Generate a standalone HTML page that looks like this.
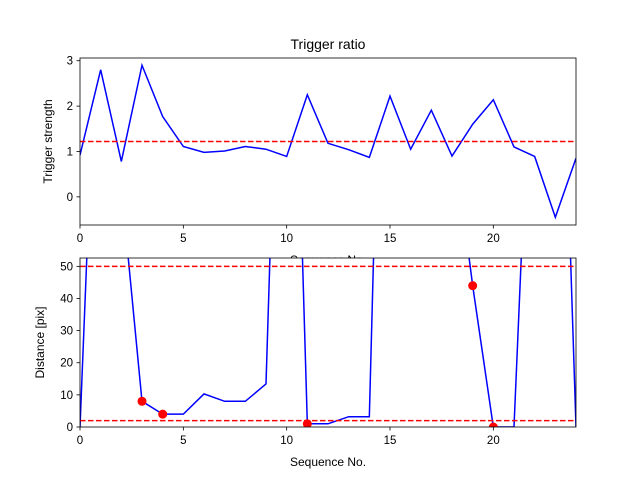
<!DOCTYPE html>
<html><head><meta charset="utf-8"><style>
html,body{margin:0;padding:0;background:#fff;}
svg{display:block;font-family:"Liberation Sans","DejaVu Sans",sans-serif;}
</style></head><body>
<svg id="chart" width="640" height="480" viewBox="0 0 640 480">
<rect x="0" y="0" width="640" height="480" fill="#fff"/>
</svg>
<script>
const seqNo = [0,1,2,3,4,5,6,7,8,9,10,11,12,13,14,15,16,17,18,19,20,21,22,23,24];
const strength = [0.92,2.8,0.78,2.9,1.77,1.11,0.98,1.01,1.11,1.05,0.89,2.25,1.18,1.04,0.87,2.22,1.05,1.91,0.9,1.6,2.14,1.1,0.89,-0.45,0.85];
const strengthThreshold = [1.22];
const distance = [0,160,75,8,4,4,10.3,8,8,13.4,220,1,1,3.2,3.2,247,240,230,94,44,0,0,150,200,0];
const flaggedIdx = [3,4,11,19,20];
const distThresholds = [50,2];
const topYTicks = [0,1,2,3];
const botYTicks = [0,10,20,30,40,50];
const xTicks = [0,5,10,15,20];

const NS="http://www.w3.org/2000/svg";
const svgEl=document.getElementById('chart');
function mk(tag,attrs,parent){const e=document.createElementNS(NS,tag);for(const k in attrs)e.setAttribute(k,attrs[k]);(parent||svgEl).appendChild(e);return e;}

const L=80,R=576;
const xS=v=>L+(v-0)/(24-0)*(R-L);
const topAx={t:58,b:225,min:-0.62,max:3.06};
const botAx={t:258,b:427,min:0,max:52.6};
const yS=(ax,v)=>ax.b-(v-ax.min)/(ax.max-ax.min)*(ax.b-ax.t);

function drawAxes(ax,yticks,ylabel,ylabelX,name){
  const g=mk('g',{});
  
  
  mk('rect',{x:L,y:ax.t,width:R-L,height:ax.b-ax.t,fill:'#fff'},g);
  const clipId='clip-'+name;
  const cp=mk('clipPath',{id:clipId},g);
  mk('rect',{x:L,y:ax.t,width:R-L,height:ax.b-ax.t},cp);
  yticks.forEach(v=>{
    const y=yS(ax,v);
    const t=mk('line',{x1:L-3.5,x2:L,y1:y,y2:y,stroke:'#000','stroke-width':0.8},g);
    
    
    const tx=mk('text',{x:L-7,y:y+4,'text-anchor':'end','font-size':'11.5'},g);
    
    
    tx.textContent=v;
  });
  xTicks.forEach(v=>{
    const x=xS(v);
    const t=mk('line',{x1:x,x2:x,y1:ax.b,y2:ax.b+3.5,stroke:'#000','stroke-width':0.8},g);
    
    
    const tx=mk('text',{x:x,y:ax.b+17,'text-anchor':'middle','font-size':'11.5'},g);
    
    
    tx.textContent=v;
  });
  const yl=mk('text',{x:ylabelX,y:(ax.t+ax.b)/2,'text-anchor':'middle','font-size':'12',transform:`rotate(-90 ${ylabelX} ${(ax.t+ax.b)/2})`},g);
  
  
  yl.textContent=ylabel;
  const xl=mk('text',{x:(L+R)/2,y:ax.b+39,'text-anchor':'middle','font-size':'12'},g);
  
  
  xl.textContent='Sequence No.';
  const plot=mk('g',{'clip-path':`url(#${clipId})`},g);
  return {g,plot};
}

const A=drawAxes(topAx,topYTicks,'Trigger strength',52,'top-axes');
const title=mk('text',{x:(L+R)/2,y:49,'text-anchor':'middle','font-size':'14'});


title.textContent='Trigger ratio';
let pl=mk('polyline',{points:strength.map((v,i)=>xS(seqNo[i])+','+yS(topAx,v)).join(' '),fill:'none',stroke:'#0000ff','stroke-width':1.5},A.plot);


strengthThreshold.forEach(v=>{
  const l=mk('line',{x1:L,x2:R,y1:yS(topAx,v),y2:yS(topAx,v),stroke:'#ff0000','stroke-width':1.5,'stroke-dasharray':'5.5,2.5'},A.plot);
  
  
});
mk('rect',{x:L,y:topAx.t,width:R-L,height:topAx.b-topAx.t,fill:'none',stroke:'#000','stroke-width':0.8},A.g);

const B=drawAxes(botAx,botYTicks,'Distance [pix]',44,'bottom-axes');
pl=mk('polyline',{points:distance.map((v,i)=>xS(seqNo[i])+','+yS(botAx,v)).join(' '),fill:'none',stroke:'#0000ff','stroke-width':1.5},B.plot);


distThresholds.forEach(v=>{
  const l=mk('line',{x1:L,x2:R,y1:yS(botAx,v),y2:yS(botAx,v),stroke:'#ff0000','stroke-width':1.5,'stroke-dasharray':'5.5,2.5'},B.plot);
  
  
});
flaggedIdx.forEach(i=>{
  const c=mk('circle',{cx:xS(seqNo[i]),cy:yS(botAx,distance[i]),r:4.5,fill:'#ff0000'},B.plot);
  
  
});
mk('rect',{x:L,y:botAx.t,width:R-L,height:botAx.b-botAx.t,fill:'none',stroke:'#000','stroke-width':0.8},B.g);
</script>
</body></html>
